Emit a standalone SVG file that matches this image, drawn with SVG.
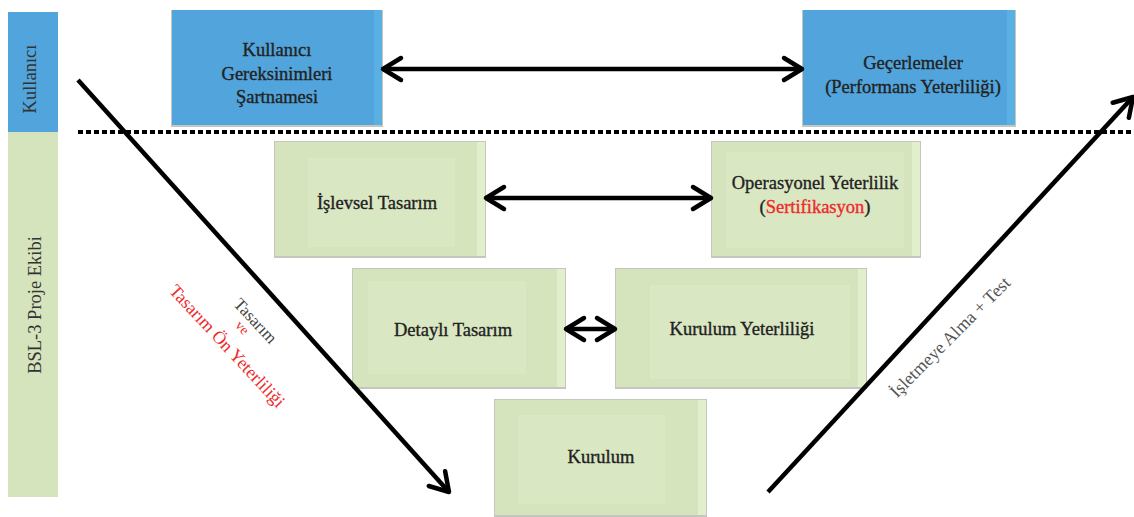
<svg xmlns="http://www.w3.org/2000/svg" width="1134" height="517" viewBox="0 0 1134 517">
<style>
.bg{fill:#ffffff}
.blue{fill:#51A5DC}
.blueR{fill:#5AAFE3}
.green{fill:#D6E4BD}
.greenI{fill:#DAE7C3}
.greenR{fill:#E2EFCD}
.shadow{fill:#C3C7BD}
.t{font-family:"Liberation Serif","Times New Roman",serif;font-size:18.5px;fill:#222;stroke:#222;stroke-width:0.35;text-anchor:middle}
.side{font-family:"Liberation Serif","Times New Roman",serif;font-size:18.5px;fill:#333;text-anchor:middle}
.red{fill:#EE2A2A;stroke:#EE2A2A}
.lbl{font-family:"Liberation Serif","Times New Roman",serif;text-anchor:middle}
.conn{stroke:#000;stroke-width:4.5;fill:none}
.dots{stroke:#000;stroke-width:4;stroke-dasharray:5 3;fill:none}
</style>
<defs>
<marker id="chev" markerUnits="userSpaceOnUse" viewBox="-4 -16 28 32" refX="19" refY="0" markerWidth="28" markerHeight="32" orient="auto-start-reverse">
<path d="M1,-11 L19,0 L1,11" fill="none" stroke="#000" stroke-width="4.5" stroke-linecap="round" stroke-linejoin="round"/>
</marker>
</defs>
<rect class="bg" x="0" y="0" width="1134" height="517"/>

<g id="lane-kullanici">
<rect x="8" y="12" width="50" height="120" fill="#51A5DC"/>
<text class="side" transform="translate(36,79) rotate(-90)">Kullanıcı</text>
</g>
<g id="lane-proje">
<rect x="8" y="132" width="50" height="365" fill="#D6E4BD"/>
<text class="side" transform="translate(41,305) rotate(-90)">BSL-3 Proje Ekibi</text>
</g>

<g id="n1">
<rect class="shadow" x="171" y="10" width="212" height="117"/>
<rect class="blue" x="172" y="10" width="210" height="115"/>
<rect class="blueR" x="374" y="10" width="8" height="115"/>
<text class="t" x="277" y="56">Kullanıcı</text>
<text class="t" x="277" y="80">Gereksinimleri</text>
<text class="t" x="277" y="103">Şartnamesi</text>
</g>

<g id="n2">
<rect class="shadow" x="802" y="10" width="214" height="117"/>
<rect class="blue" x="803" y="10" width="212" height="115"/>
<rect class="blueR" x="1007" y="10" width="8" height="115"/>
<text class="t" x="913" y="69">Geçerlemeler</text>
<text class="t" x="913" y="93">(Performans Yeterliliği)</text>
</g>

<g id="n3">
<rect class="shadow" x="274" y="141" width="212" height="117"/>
<rect class="green" x="275" y="142" width="210" height="114"/>
<rect class="greenI" x="308" y="158" width="147" height="89"/>
<rect class="greenR" x="477" y="142" width="8" height="114"/>
<text class="t" x="377" y="209">İşlevsel Tasarım</text>
</g>

<g id="n4">
<rect class="shadow" x="711" y="141" width="210" height="117"/>
<rect class="green" x="712" y="142" width="208" height="114"/>
<rect class="greenI" x="726" y="152" width="178" height="96"/>
<rect class="greenR" x="912" y="142" width="8" height="114"/>
<text class="t" x="815" y="189">Operasyonel Yeterlilik</text>
<text class="t" x="815" y="213">(<tspan class="red">Sertifikasyon</tspan>)</text>
</g>

<g id="n5">
<rect class="shadow" x="352" y="268" width="214" height="121"/>
<rect class="green" x="353" y="269" width="212" height="118"/>
<rect class="greenI" x="368" y="281" width="158" height="93"/>
<rect class="greenR" x="557" y="269" width="8" height="118"/>
<text class="t" x="453" y="336">Detaylı Tasarım</text>
</g>

<g id="n6">
<rect class="shadow" x="615" y="268" width="252" height="121"/>
<rect class="green" x="616" y="269" width="250" height="118"/>
<rect class="greenI" x="650" y="285" width="200" height="94"/>
<rect class="greenR" x="858" y="269" width="8" height="118"/>
<text class="t" x="742" y="335">Kurulum Yeterliliği</text>
</g>

<g id="n7">
<rect class="shadow" x="494" y="399" width="213" height="118"/>
<rect class="green" x="495" y="400" width="211" height="115"/>
<rect class="greenI" x="518" y="415" width="147" height="89"/>
<rect class="greenR" x="698" y="400" width="8" height="115"/>
<text class="t" x="601" y="463">Kurulum</text>
</g>

<g id="divider">
<line class="dots" x1="78" y1="132" x2="1134" y2="132"/>
</g>

<g id="connectors">
<line class="conn" x1="383" y1="69" x2="802" y2="69" marker-start="url(#chev)" marker-end="url(#chev)"/>
<line class="conn" x1="486" y1="198" x2="711" y2="198" marker-start="url(#chev)" marker-end="url(#chev)"/>
<line class="conn" x1="566" y1="329" x2="615" y2="329" marker-start="url(#chev)" marker-end="url(#chev)"/>
<line class="conn" x1="78" y1="80" x2="449" y2="492" marker-end="url(#chev)"/>
<line class="conn" x1="768" y1="492" x2="1133" y2="97" marker-end="url(#chev)"/>
<g class="lbl" transform="translate(242,328) rotate(47)">
<text x="4" y="-9" font-size="17" fill="#444">Tasarım</text>
<text x="0" y="4" font-size="14" fill="#EE2A2A">ve</text>
<text x="3" y="29" font-size="18" fill="#EE2A2A">Tasarım Ön Yeterliliği</text>
</g>
<text class="lbl" transform="translate(950,337) rotate(-45)" y="6" font-size="18" fill="#555">İşletmeye Alma + Test</text>
</g>
</svg>
